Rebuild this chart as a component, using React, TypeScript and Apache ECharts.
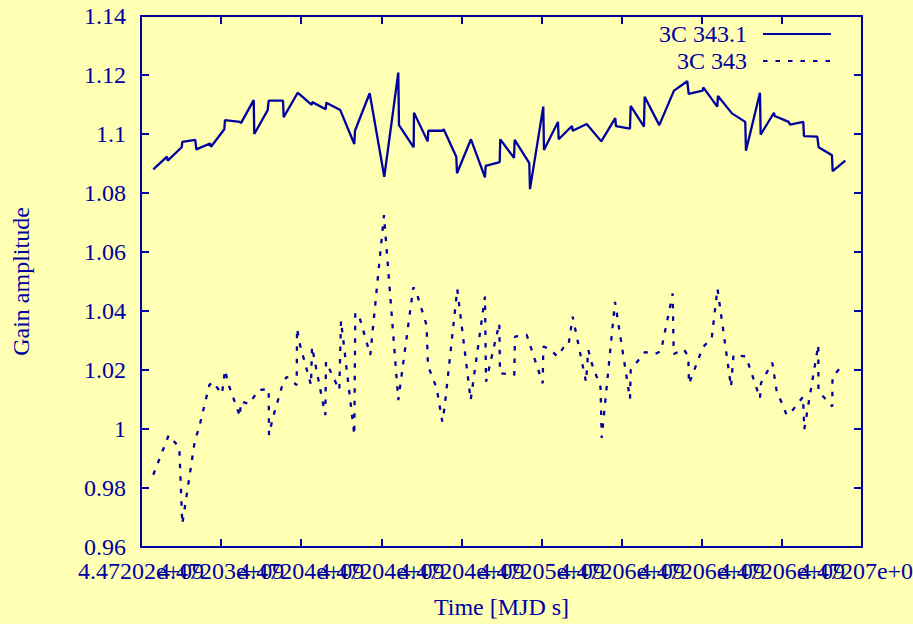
import { useEffect, useRef } from 'react';
import * as echarts from 'echarts';

// Time axis (MJD seconds)
const T0 = 4472025000;
const T_END = 4472070000;
const T_STEP = 5000;
const xTickLabels = [
  '4.47202e+09', '4.47203e+09', '4.47204e+09', '4.47204e+09', '4.47204e+09',
  '4.47205e+09', '4.47206e+09', '4.47206e+09', '4.47206e+09', '4.47207e+09',
];

// Series 1: 3C 343.1 (solid) — time offsets from T0 (s) and gain amplitude
const src1Name = '3C 343.1';
const src1T = [768, 1623, 1666, 2540, 2578, 3389, 3451, 4306, 4369, 5199, 5242, 6179, 6241, 7034, 7071, 7907, 7970, 8862, 8906, 9780, 10653, 10691, 11527, 11565, 12438, 13312, 13356, 14273, 15184, 16058, 16102, 17019, 17038, 17893, 17930, 18804, 18891, 19678, 19722, 20595, 21469, 21512, 22386, 22424, 23279, 23323, 24234, 24277, 25108, 25151, 26025, 26069, 26899, 26942, 27816, 28728, 29601, 29645, 30518, 30562, 31392, 31436, 32347, 33265, 34095, 34182, 35056, 35093, 35967, 36011, 36884, 37714, 37758, 38632, 38675, 39506, 39549, 40423, 40504, 41334, 41378, 42208, 42296, 43125, 43169, 43956];
const src1V = [1.0880, 1.0923, 1.0910, 1.0955, 1.0973, 1.0980, 1.0948, 1.0968, 1.0957, 1.1016, 1.1047, 1.1041, 1.1037, 1.1115, 1.1000, 1.1081, 1.1113, 1.1113, 1.1057, 1.1140, 1.1099, 1.1108, 1.1084, 1.1106, 1.1081, 1.0966, 1.1011, 1.1138, 1.0855, 1.1208, 1.1030, 1.0955, 1.1072, 1.0975, 1.1011, 1.1011, 1.1016, 1.0923, 1.0867, 1.0982, 1.0853, 1.0892, 1.0905, 1.0982, 1.0919, 1.0980, 1.0901, 1.0813, 1.1093, 1.0946, 1.1041, 1.0982, 1.1027, 1.1011, 1.1034, 1.0975, 1.1054, 1.1027, 1.1018, 1.1095, 1.1025, 1.1126, 1.1030, 1.1147, 1.1179, 1.1136, 1.1147, 1.1158, 1.1093, 1.1129, 1.1070, 1.1041, 1.0943, 1.1140, 1.0998, 1.1072, 1.1061, 1.1041, 1.1032, 1.1041, 1.0993, 1.0991, 1.0955, 1.0928, 1.0874, 1.0910];

// Series 2: 3C 343 (dashed)
const src2Name = '3C 343';
const src2T = [768, 1729, 2390, 2578, 3370, 3620, 4263, 4475, 5055, 5243, 5474, 6179, 6223, 6759, 7333, 7970, 7990, 8220, 8881, 9094, 9718, 9738, 9924, 10610, 10673, 11503, 11546, 12376, 12483, 13313, 13375, 13625, 14311, 15166, 16059, 16995, 17145, 17819, 17913, 18456, 18805, 18942, 19741, 20577, 21470, 21532, 22363, 22406, 23299, 23343, 24073, 25071, 25109, 25527, 25983, 26357, 26669, 26944, 27774, 27918, 28130, 28679, 28754, 29584, 30520, 30564, 31456, 32080, 32455, 33185, 33247, 33890, 34159, 34202, 35076, 35619, 35981, 36824, 36980, 37760, 38632, 38696, 39401, 39663, 40300, 40674, 41317, 41398, 42272, 42285, 42597, 43146, 43159, 43670];
const src2V = [0.9845, 0.9979, 0.9938, 0.9678, 0.9963, 1.0003, 1.0149, 1.0160, 1.0119, 1.0200, 1.0149, 1.0042, 1.0093, 1.0085, 1.0132, 1.0135, 0.9980, 1.0036, 1.0160, 1.0177, 1.0149, 1.0341, 1.0285, 1.0149, 1.0279, 1.0047, 1.0228, 1.0132, 1.0367, 0.9980, 1.0394, 1.0381, 1.0251, 1.0725, 1.0098, 1.0480, 1.0471, 1.0353, 1.0214, 1.0138, 1.0025, 1.0071, 1.0474, 1.0098, 1.0449, 1.0160, 1.0358, 1.0189, 1.0183, 1.0313, 1.0319, 1.0155, 1.0279, 1.0271, 1.0246, 1.0275, 1.0280, 1.0381, 1.0160, 1.0268, 1.0223, 1.0142, 0.9970, 1.0431, 1.0102, 1.0200, 1.0261, 1.0254, 1.0264, 1.0459, 1.0254, 1.0270, 1.0245, 1.0153, 1.0278, 1.0307, 1.0476, 1.0143, 1.0251, 1.0246, 1.0104, 1.0156, 1.0225, 1.0132, 1.0047, 1.0064, 1.0109, 0.9999, 1.0285, 1.0132, 1.0109, 1.0076, 1.0177, 1.0209];

const Y_MIN = 0.96;
const Y_MAX = 1.14;
const Y_STEP = 0.02;

const NAVY = '#0000a0';
const BG = '#ffffb4';
const FONT = "'Liberation Serif', 'Times New Roman', Times, serif";
const FS = 24;

export default function App() {
  const ref = useRef<HTMLDivElement>(null);
  useEffect(() => {
    const chart = echarts.init(ref.current!, null, { renderer: 'svg' });
    const axisLine = { show: true, lineStyle: { color: NAVY, width: 2 } };
    const axisTick = { show: true, inside: true, length: 8, lineStyle: { color: NAVY, width: 2 } };
    const txt = { color: NAVY, fontFamily: FONT, fontSize: FS };
    const s1 = src1T.map((t, i) => [T0 + t, src1V[i]]);
    const s2 = src2T.map((t, i) => [T0 + t, src2V[i]]);
    chart.setOption({
      animation: false,
      backgroundColor: BG,
      grid: { left: 141, right: 51, top: 16, bottom: 77, outerBoundsMode: 'none', containLabel: false },
      legend: {
        orient: 'vertical',
        right: 76,
        top: 17,
        align: 'right',
        itemWidth: 68,
        itemHeight: 12,
        itemGap: 3,
        itemStyle: { color: 'rgba(0,0,0,0)', borderWidth: 0, opacity: 0 },
        textStyle: { ...txt, padding: [0, 11, 0, 0] },
        data: [src1Name, src2Name],
      },
      xAxis: [
        {
          type: 'value', min: T0, max: T_END, interval: T_STEP, position: 'bottom',
          axisLine, axisTick, splitLine: { show: false },
          axisLabel: { show: false },
          name: 'Time [MJD s]', nameLocation: 'middle', nameGap: 48, nameTextStyle: txt,
        },
        {
          type: 'value', min: T0, max: T_END, interval: T_STEP, position: 'top',
          axisLine, axisTick, splitLine: { show: false }, axisLabel: { show: false },
        },
      ],
      yAxis: [
        {
          type: 'value', min: Y_MIN, max: Y_MAX, interval: Y_STEP, position: 'left',
          axisLine, axisTick, splitLine: { show: false },
          axisLabel: { ...txt, margin: 15, showMinLabel: true, showMaxLabel: true },
          name: 'Gain amplitude', nameLocation: 'middle', nameGap: 108, nameTextStyle: txt,
        },
        {
          type: 'value', min: Y_MIN, max: Y_MAX, interval: Y_STEP, position: 'right',
          axisLine, axisTick, splitLine: { show: false }, axisLabel: { show: false },
        },
      ],
      series: [
        {
          name: src1Name, type: 'line', data: s1, symbol: 'none', color: NAVY,
          lineStyle: { color: NAVY, width: 2.3 }, xAxisIndex: 0, yAxisIndex: 0,
        },
        {
          name: src2Name, type: 'line', data: s2, symbol: 'none', color: NAVY,
          lineStyle: { color: NAVY, width: 2.3, type: [4.5, 8] }, xAxisIndex: 0, yAxisIndex: 0,
        },
      ],
    });
    // Tick labels of the time axis, placed at the axis's own tick positions
    const yBottom = chart.convertToPixel({ yAxisIndex: 0 }, Y_MIN) as number;
    const labels = xTickLabels.map((label, i) => {
      const px = chart.convertToPixel({ xAxisIndex: 0 }, T0 + i * T_STEP) as number;
      return {
        type: 'text',
        x: px,
        y: yBottom + 12,
        silent: true,
        style: {
          text: label,
          fill: NAVY,
          font: `${FS}px ${FONT}`,
          align: 'center',
          verticalAlign: 'top',
        },
      };
    });
    chart.setOption({ graphic: labels });
    return () => chart.dispose();
  }, []);
  return (
    <div
      ref={ref}
      style={{ position: 'fixed', left: 0, top: 0, width: 913, height: 624, background: BG }}
    />
  );
}
